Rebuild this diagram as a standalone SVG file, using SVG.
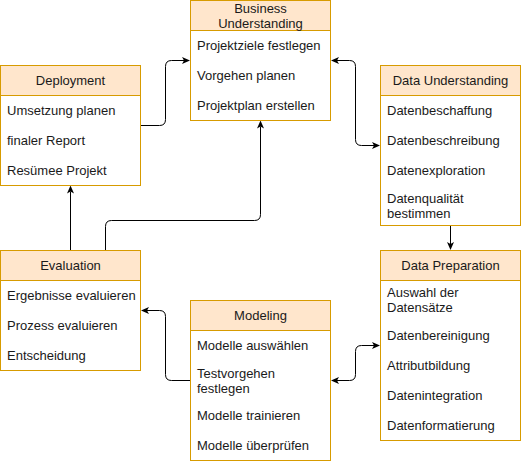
<svg xmlns="http://www.w3.org/2000/svg" width="521" height="461" viewBox="0 0 521 461">
<style>
.box{fill:#ffffff;stroke:#d79b00;stroke-width:1}
.hdr{fill:#ffe6cc;stroke:#d79b00;stroke-width:1}
text{font-family:"Liberation Sans",Arial,sans-serif;font-size:13px;fill:#1a1a1a}
.t{text-anchor:middle}
.edge{fill:none;stroke:#000;stroke-width:1}
</style>
<defs>
<marker id="arr" markerUnits="userSpaceOnUse" markerWidth="10" markerHeight="10" refX="2" refY="3.5" orient="auto-start-reverse" viewBox="0 0 10 10">
<path d="M0,0 L8,3.5 L0,7 L2,3.5 Z" fill="#000"/>
</marker>
</defs>
<g id="connectors">
<path class="edge" d="M140.5,125.5 H159.5 Q165.5,125.5 165.5,119.5 V66.5 Q165.5,60.5 171.5,60.5 H184" marker-end="url(#arr)"/>
<path class="edge" d="M337,60.5 H349.5 Q355.5,60.5 355.5,66.5 V139.5 Q355.5,145.5 361.5,145.5 H374" marker-start="url(#arr)" marker-end="url(#arr)"/>
<path class="edge" d="M450.5,225.5 V244" marker-end="url(#arr)"/>
<path class="edge" d="M337,380.5 H349.5 Q355.5,380.5 355.5,374.5 V351.5 Q355.5,345.5 361.5,345.5 H374" marker-start="url(#arr)" marker-end="url(#arr)"/>
<path class="edge" d="M190.5,380.5 H171.5 Q165.5,380.5 165.5,374.5 V316.5 Q165.5,310.5 159.5,310.5 H147" marker-end="url(#arr)"/>
<path class="edge" d="M70.5,250.5 V191.5" marker-end="url(#arr)"/>
<path class="edge" d="M105.5,250.5 V226.5 Q105.5,220.5 111.5,220.5 H254.5 Q260.5,220.5 260.5,214.5 V126.5" marker-end="url(#arr)"/>
</g>
<g id="business-understanding">
<rect class="box" x="190.5" y="0.5" width="140" height="120"/>
<rect class="hdr" x="190.5" y="0.5" width="140" height="30"/>
<text class="t" x="260.5" y="12.5">Business</text>
<text class="t" x="260.5" y="28">Understanding</text>
<text x="197" y="50">Projektziele festlegen</text>
<text x="197" y="80">Vorgehen planen</text>
<text x="197" y="110">Projektplan erstellen</text>
</g>
<g id="deployment">
<rect class="box" x="0.5" y="65.5" width="140" height="120"/>
<rect class="hdr" x="0.5" y="65.5" width="140" height="30"/>
<text class="t" x="70.5" y="85">Deployment</text>
<text x="7" y="115">Umsetzung planen</text>
<text x="7" y="145">finaler Report</text>
<text x="7" y="175">Resümee Projekt</text>
</g>
<g id="data-understanding">
<rect class="box" x="380.5" y="65.5" width="140" height="160"/>
<rect class="hdr" x="380.5" y="65.5" width="140" height="30"/>
<text class="t" x="450.5" y="85">Data Understanding</text>
<text x="387" y="115">Datenbeschaffung</text>
<text x="387" y="145">Datenbeschreibung</text>
<text x="387" y="175">Datenexploration</text>
<text x="387" y="202.5">Datenqualität</text>
<text x="387" y="217.5">bestimmen</text>
</g>
<g id="evaluation">
<rect class="box" x="0.5" y="250.5" width="140" height="120"/>
<rect class="hdr" x="0.5" y="250.5" width="140" height="30"/>
<text class="t" x="70.5" y="270">Evaluation</text>
<text x="7" y="300">Ergebnisse evaluieren</text>
<text x="7" y="330">Prozess evaluieren</text>
<text x="7" y="360">Entscheidung</text>
</g>
<g id="data-preparation">
<rect class="box" x="380.5" y="250.5" width="140" height="190"/>
<rect class="hdr" x="380.5" y="250.5" width="140" height="30"/>
<text class="t" x="450.5" y="270">Data Preparation</text>
<text x="387" y="296.5">Auswahl der</text>
<text x="387" y="312">Datensätze</text>
<text x="387" y="340">Datenbereinigung</text>
<text x="387" y="370">Attributbildung</text>
<text x="387" y="400">Datenintegration</text>
<text x="387" y="430">Datenformatierung</text>
</g>
<g id="modeling">
<rect class="box" x="190.5" y="300.5" width="140" height="160"/>
<rect class="hdr" x="190.5" y="300.5" width="140" height="30"/>
<text class="t" x="260.5" y="320">Modeling</text>
<text x="197" y="350">Modelle auswählen</text>
<text x="197" y="377.5">Testvorgehen</text>
<text x="197" y="393">festlegen</text>
<text x="197" y="420">Modelle trainieren</text>
<text x="197" y="450">Modelle überprüfen</text>
</g>
</svg>
